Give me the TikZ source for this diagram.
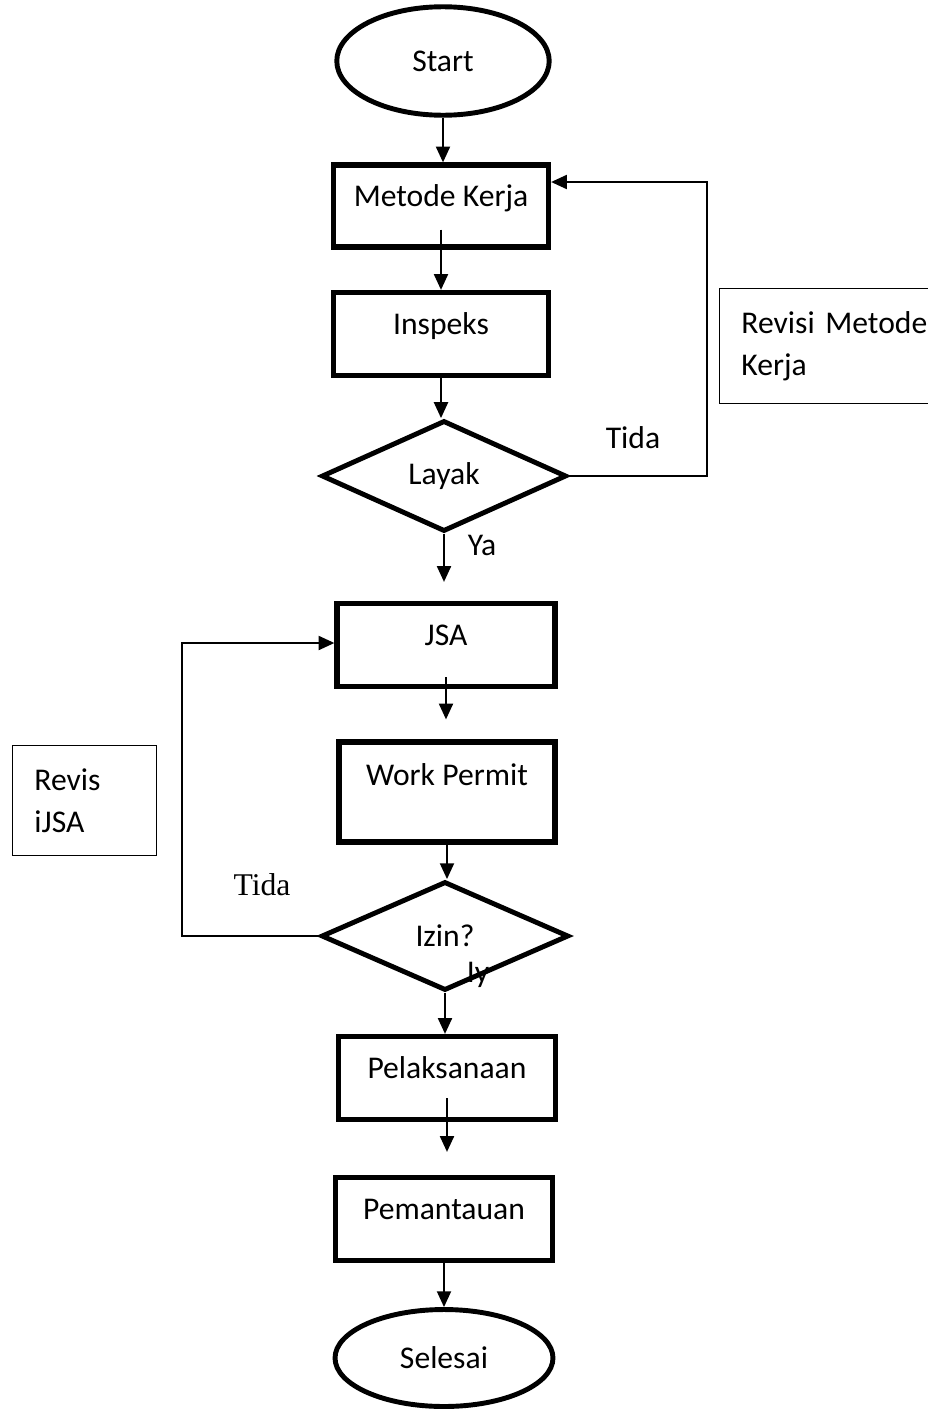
\documentclass[tikz,border=0pt]{standalone}
\usepackage{fontspec}
\setmainfont{Carlito}
\newfontfamily\timesfont{Liberation Serif}
\usetikzlibrary{shapes.geometric,arrows.meta}
\begin{document}
\begin{tikzpicture}[x=0.02cm,y=-0.02cm,
every node/.style={font=\fontsize{18}{24}\selectfont},
terminal/.style={ellipse,draw,line width=2.8pt,inner sep=0pt},
stepbox/.style={rectangle,draw,line width=3pt,minimum width=4.32cm,minimum height=1.66cm,text height=0.46cm,text depth=0.46cm},
decision/.style={diamond,draw,line width=2.8pt,inner sep=0pt,aspect=2.2},
notebox/.style={rectangle,draw,line width=0.5pt,align=left,inner xsep=0.44cm},
conn/.style={line width=1.1pt,-{Triangle[width=8pt,length=9pt]}}]
\useasboundingbox (0,0) rectangle (928,1410);
\node [terminal,minimum width=4.25cm,minimum height=2.17cm] (start) at (443,61) {Start};
\node [stepbox,minimum width=4.3cm,minimum height=1.64cm] (metode) at (441,206) {Metode Kerja};
\node [stepbox,minimum width=4.3cm] (inspeks) at (441,334) {Inspeks};
\node [decision,minimum width=4.9cm,minimum height=2.22cm] (layak) at (444,476) {Layak};
\node [stepbox,minimum width=4.36cm] (jsa) at (446,645) {JSA};
\node [stepbox,minimum height=2.0cm,text depth=0.74cm] (permit) at (447,792) {Work Permit};
\node [decision,minimum width=4.95cm,minimum height=2.18cm] (izin) at (445,936) {Izin?};
\node [stepbox,minimum width=4.34cm] (pelaksanaan) at (447,1078) {Pelaksanaan};
\node [stepbox,minimum width=4.34cm] (pemantauan) at (444,1219) {Pemantauan};
\node [terminal,minimum width=4.36cm,minimum height=1.94cm] (selesai) at (444,1358) {Selesai};
\node [notebox,anchor=north west,text width=5cm,minimum height=2.3cm] (revmetode) at (719,288) {Revisi Metode\\Kerja};
\node [notebox,anchor=north west,text width=2cm,minimum height=2.2cm] (revjsa) at (12,745) {Revis\\iJSA};
\node (tida1) at (633,438) {Tida};
\node (ya) at (482,545) {Ya};
\node [font=\timesfont\fontsize{18}{22}\selectfont] (tida2) at (262,885) {Tida};
\node (iy) at (478,975) {Iy};
\coordinate (rloop) at (707,182);
\coordinate (lloop) at (182,643);
\draw [conn] (start.south) -- (start.south |- metode.north);
\draw [conn,shorten <=-0.4cm] (metode.south) -- (metode.south |- inspeks.north);
\draw [conn] (inspeks.south) -- (inspeks.south |- layak.north);
\draw [conn,shorten >=0.38cm] (layak.south) -- (layak.south |- jsa.north);
\draw [conn,shorten <=-0.24cm,shorten >=0.4cm] (jsa.south) -- (jsa.south |- permit.north);
\draw [conn] (permit.south) -- (permit.south |- izin.north);
\draw [conn] (izin.south) -- (izin.south |- pelaksanaan.north);
\draw [conn,shorten <=-0.48cm,shorten >=0.46cm] (pelaksanaan.south) -- (pelaksanaan.south |- pemantauan.north);
\draw [conn] (pemantauan.south) -- (pemantauan.south |- selesai.north);
\draw [conn] (layak.east) -| (rloop) -- (metode.east |- rloop);
\draw [conn] (izin.west) -| (lloop) -- (jsa.west |- lloop);
\end{tikzpicture}
\end{document}
